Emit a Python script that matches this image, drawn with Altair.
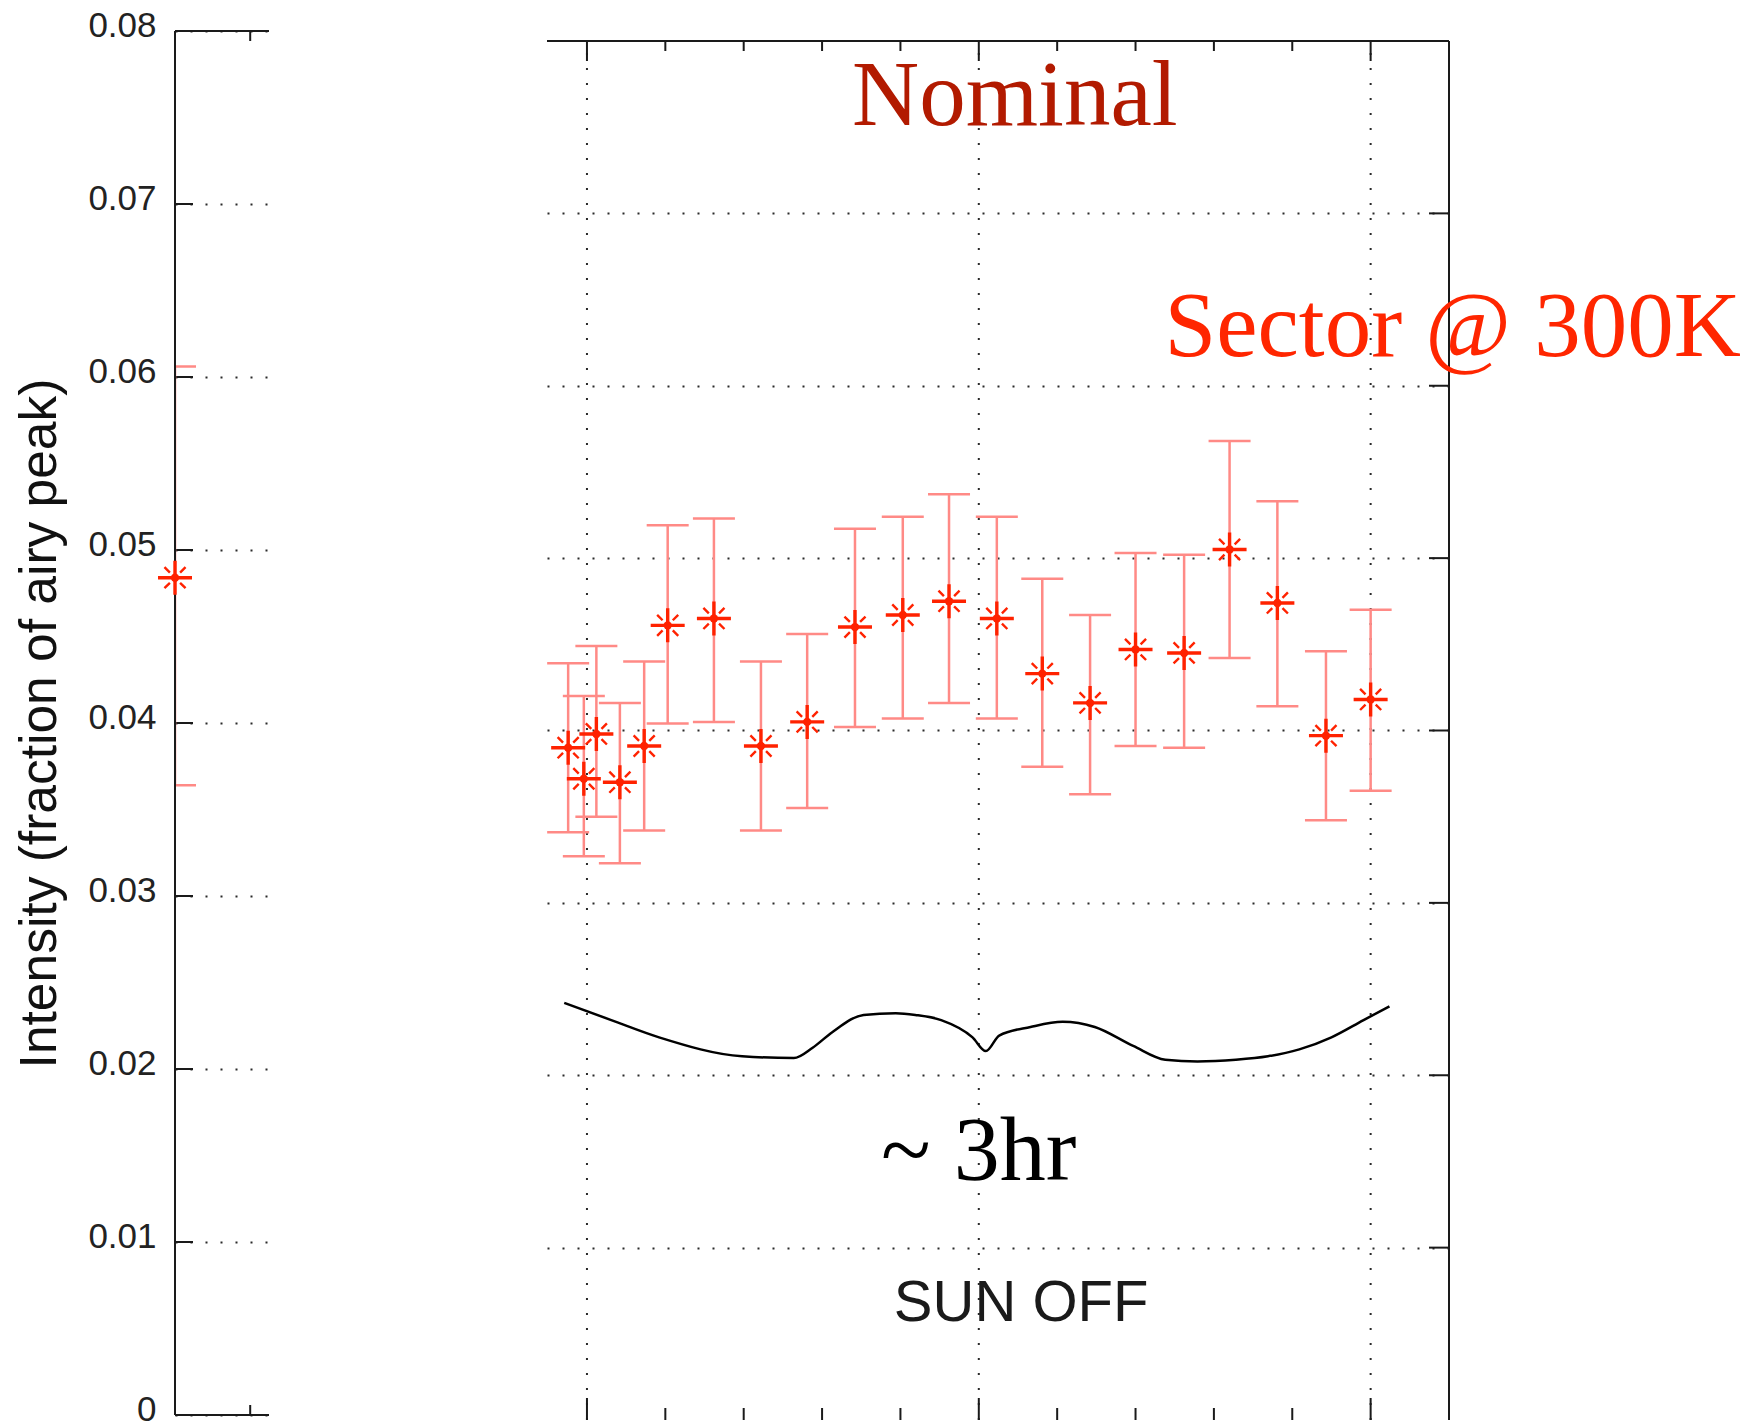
import altair as alt
import pandas as pd

SANS = "Liberation Sans"
SERIF = "Liberation Serif"
INK = "#1a1a1a"
GRID = "#2a2a2a"
STAR = "#FF2200"
ERR = "#FF8A86"

# ---- reference measurement on the left axis strip ----
ref_t = [0.0]
ref_val = [0.0484]
ref_lo = [0.0364]
ref_hi = [0.0606]

# ---- sector @ 300K run (time in tick units) ----
run_t = [-0.24, -0.04, 0.12, 0.42, 0.73, 1.03, 1.62, 2.22, 2.81, 3.42, 4.03,
         4.62, 5.23, 5.81, 6.42, 7.00, 7.62, 8.20, 8.81, 9.43, 10.00]
run_val = [0.0390, 0.0372, 0.0398, 0.0370, 0.0391, 0.0461, 0.0465, 0.0391, 0.0405, 0.0460, 0.0467,
           0.0475, 0.0465, 0.0433, 0.0416, 0.0447, 0.0445, 0.0505, 0.0474, 0.0397, 0.0418]
run_lo = [0.0341, 0.0327, 0.0350, 0.0323, 0.0342, 0.0404, 0.0405, 0.0342, 0.0355, 0.0402, 0.0407,
          0.0416, 0.0407, 0.0379, 0.0363, 0.0391, 0.0390, 0.0442, 0.0414, 0.0348, 0.0365]
run_hi = [0.0439, 0.0420, 0.0449, 0.0416, 0.0440, 0.0519, 0.0523, 0.0440, 0.0456, 0.0517, 0.0524,
          0.0537, 0.0524, 0.0488, 0.0467, 0.0503, 0.0502, 0.0568, 0.0533, 0.0446, 0.0470]

# ---- axis / grid values ----
y_ticks = [0.0, 0.01, 0.02, 0.03, 0.04, 0.05, 0.06, 0.07, 0.08]
y_grid = [0.01, 0.02, 0.03, 0.04, 0.05, 0.06, 0.07]
y_frame = [0.0, 0.08]
left_t_domain = [0.0, 1.0]
left_t_minor = [0.8]
run_t_domain = [-0.51, 11.0]
run_t_major = [0, 5, 10]
run_t_minor = [1, 2, 3, 4, 6, 7, 8, 9]
run_v_domain = [0.00029, 0.08058]   # right panel sits a little lower than the strip

# ---- brace spanning the run ----
brace_t = [-0.29, 0.31, 0.92, 1.98, 2.64, 2.88, 3.13, 3.53, 3.94, 4.19, 4.52, 4.92, 5.09,
           5.26, 5.66, 6.07, 6.48, 6.97, 7.38, 7.79, 8.28, 8.69, 9.09, 9.50, 9.91, 10.24]
brace_v = [0.0242, 0.0232, 0.0222, 0.0211, 0.0210, 0.0216, 0.0225, 0.0235, 0.0236, 0.0235, 0.0232,
           0.0222, 0.0214, 0.0223, 0.0228, 0.0231, 0.0228, 0.0217, 0.0209, 0.0208, 0.0209,
           0.0211, 0.0215, 0.0222, 0.0232, 0.0240]

# ---- annotations ----
note_text = ["Nominal", "Sector @ 300K", "~ 3hr", "SUN OFF"]
note_t = [5.46, 7.37, 5.0, 5.54]
note_v = [0.0751, 0.0617, 0.0139, 0.00575]
note_color = ["#B21A00", "#FF2600", "#000000", "#1A1A1A"]
note_font = [SERIF, SERIF, SERIF, SANS]
note_size = [93, 93, 92, 58]
note_align = ["center", "left", "center", "center"]

CROSS = "M-1,0L1,0M0,-1L0,1"
DIAG = "M-0.62,-0.62L-0.3,-0.3M0.3,0.3L0.62,0.62M-0.62,0.62L-0.3,0.3M0.3,-0.3L0.62,-0.62"
STUB_R, STUB_L, STUB_D, STUB_U = "M0,0L1,0", "M0,0L-1,0", "M0,0L0,1", "M0,0L0,-1"

W_LEFT, W_RIGHT, H = 94, 902, 1384

LEFT_AXIS = alt.Axis(
    values=y_ticks,
    labelExpr="datum.value == 0 ? '0' : format(datum.value, '.2f')",
    labelFont=SANS, labelFontSize=35, labelColor="#222", labelPadding=19, labelOffset=-6,
    ticks=False, domain=False,
    grid=True, gridDash=[2, 13], gridColor=GRID, gridWidth=2,
    title="Intensity (fraction of airy peak)", titleFont=SANS, titleFontSize=51.5,
    titleFontWeight="normal", titleColor="#111", titlePadding=21,
)
RIGHT_AXIS = alt.Axis(values=y_grid, labels=False, ticks=False, domain=False, title=None,
                      grid=True, gridDash=[2, 13], gridColor=GRID, gridWidth=2)


class Panel:
    def __init__(self, xd, yd, axis):
        self.xd, self.yd, self.axis = xd, yd, axis

    def x(self, field="t"):
        return alt.X(f"{field}:Q", scale=alt.Scale(domain=self.xd, nice=False, zero=False), axis=None)

    def y(self, field="v"):
        return alt.Y(f"{field}:Q", scale=alt.Scale(domain=self.yd, nice=False, zero=False),
                     axis=self.axis)

    def stubs(self, df, shape, size):
        return alt.Chart(df).mark_point(shape=shape, size=size, filled=False, stroke=INK,
                                        strokeWidth=2, opacity=1).encode(x=self.x(), y=self.y())

    def hrule(self, v, t0, t1, **style):
        df = pd.DataFrame({"v": v, "t": t0, "t1": t1})
        return alt.Chart(df).mark_rule(**style).encode(x=self.x(), x2="t1:Q", y=self.y())

    def vrule(self, t, v0, v1, **style):
        df = pd.DataFrame({"t": t, "v": v0, "v1": v1})
        return alt.Chart(df).mark_rule(**style).encode(x=self.x(), y=self.y(), y2="v1:Q")

    def stars(self, df):
        cross = alt.Chart(df).mark_point(shape=CROSS, size=1156, filled=False, stroke=STAR,
                                         strokeWidth=3.4, opacity=1).encode(x=self.x(), y=self.y())
        diag = alt.Chart(df).mark_point(shape=DIAG, size=1156, filled=False, stroke=STAR,
                                        strokeWidth=2.4, opacity=1).encode(x=self.x(), y=self.y())
        dot = alt.Chart(df).mark_circle(size=70, color=STAR, opacity=1).encode(x=self.x(), y=self.y())
        return [cross, diag, dot]

    def errors(self, df, clip):
        bar = alt.Chart(df).mark_rule(color=ERR, strokeWidth=2.5, clip=clip).encode(
            x=self.x(), y=self.y("lo"), y2=alt.Y2("hi:Q"))
        caps = pd.concat([df[["t", "lo"]].rename(columns={"lo": "v"}),
                          df[["t", "hi"]].rename(columns={"hi": "v"})])
        cap = alt.Chart(caps).mark_tick(orient="horizontal", size=42, thickness=2.5, color=ERR,
                                        opacity=1, clip=clip).encode(x=self.x(), y=self.y())
        return [bar, cap]


# ================= left strip =================
L = Panel(left_t_domain, [0, 0.08], LEFT_AXIS)
ref_df = pd.DataFrame({"t": ref_t, "v": ref_val, "lo": ref_lo, "hi": ref_hi})

left = alt.layer(
    L.stubs(pd.DataFrame({"t": [left_t_domain[0]] * len(y_ticks), "v": y_ticks}), STUB_R, 1296),
    *L.errors(ref_df, True),
    L.hrule(y_frame, [left_t_domain[0]] * 2, [left_t_domain[1]] * 2, color=INK, strokeWidth=2),
    L.vrule([left_t_domain[0]], [y_frame[0]], [y_frame[1]], color=INK, strokeWidth=2),
    L.stubs(pd.DataFrame({"t": left_t_minor, "v": [y_frame[1]]}), STUB_D, 400),
    L.stubs(pd.DataFrame({"t": left_t_minor, "v": [y_frame[0]]}), STUB_U, 400),
    *L.stars(ref_df),
).properties(width=W_LEFT, height=H)

# ================= right panel =================
R = Panel(run_t_domain, run_v_domain, RIGHT_AXIS)
run_df = pd.DataFrame({"t": run_t, "v": run_val, "lo": run_lo, "hi": run_hi})
RD = run_t_domain

notes = []
for txt, t, v, col, fnt, sz, al in zip(note_text, note_t, note_v, note_color, note_font,
                                       note_size, note_align):
    notes.append(alt.Chart(pd.DataFrame({"t": [t], "v": [v]})).mark_text(
        text=txt, font=fnt, fontSize=sz, color=col, align=al, baseline="alphabetic").encode(
        x=R.x(), y=R.y()))

brace = alt.Chart(pd.DataFrame({"t": brace_t, "v": brace_v})).mark_line(
    color="#000", strokeWidth=2.5, interpolate="monotone").encode(x=R.x(), y=R.y())

right = alt.layer(
    R.stubs(pd.DataFrame({"t": [RD[1]] * len(y_grid), "v": y_grid}), STUB_L, 1600),
    R.vrule(run_t_major, [y_frame[0]] * 3, [y_frame[1]] * 3,
            color=GRID, strokeWidth=2, strokeDash=[2, 13]),
    R.hrule([y_frame[1]], [RD[0]], [RD[1]], color=INK, strokeWidth=2),
    R.vrule([RD[1]], [y_frame[0]], [y_frame[1]], color=INK, strokeWidth=2),
    R.stubs(pd.DataFrame({"t": run_t_major, "v": [y_frame[1]] * 3}), STUB_D, 1600),
    R.stubs(pd.DataFrame({"t": run_t_minor, "v": [y_frame[1]] * 8}), STUB_D, 400),
    R.stubs(pd.DataFrame({"t": run_t_major, "v": [y_frame[0]] * 3}), STUB_U, 1936),
    R.stubs(pd.DataFrame({"t": run_t_minor, "v": [y_frame[0]] * 8}), STUB_U, 576),
    *R.errors(run_df, False),
    *R.stars(run_df),
    brace, *notes,
).properties(width=W_RIGHT, height=H)

chart = alt.hconcat(left, right, spacing=278, bounds="flush").properties(
    padding={"left": 14, "top": 8, "right": 4, "bottom": 0},
    background="white",
).configure_view(stroke=None)

chart.save("out.html", embed_options={"renderer": "svg", "actions": False})
